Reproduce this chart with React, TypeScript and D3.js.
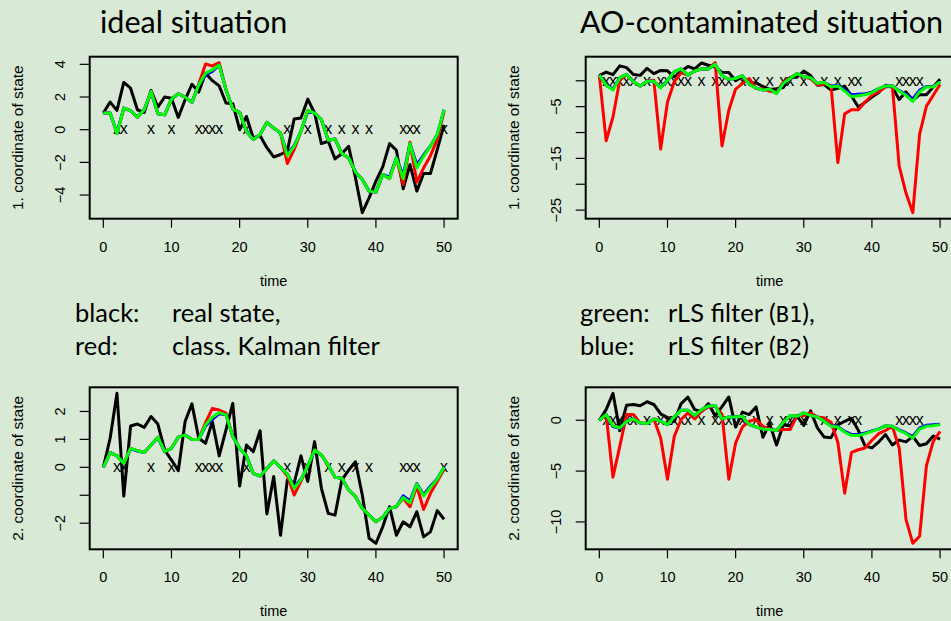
import * as d3 from "d3";

// time index of the state space model
const time = d3.range(0, 51);

// first coordinate of the state (black), shared by both top panels
const state1 = [1.02, 1.69, 1.18, 2.89, 2.54, 1.22, 1.05, 2.4, 1.38, 2.0, 1.93, 0.75, 1.83, 2.78, 2.3, 3.45, 3.0, 2.68, 1.63, 1.59, 0.0, 0.81, -0.5, -0.37, -1.1, -1.67, -1.52, -1.3, 0.65, 0.71, 1.87, 1.02, -0.85, -0.71, -1.79, -1.46, -1.02, -2.95, -5.08, -4.17, -3.15, -2.28, -0.85, -1.26, -3.62, -2.13, -3.76, -2.68, -2.68, -1.22, 0.3];
// second coordinate of the state (black), shared by both bottom panels
const state2 = [0.0, 1.04, 2.65, -1.03, 1.48, 1.55, 1.43, 1.82, 1.55, 0.62, 0.26, -0.12, 1.64, 2.27, 1.04, 0.86, 1.64, 0.41, 1.34, 2.29, -0.67, 0.8, 0.56, 1.31, -1.67, -0.33, -2.43, -0.45, -0.57, 0.41, -0.51, 0.92, -0.75, -1.65, -1.71, -0.45, -0.1, 0.2, -0.99, -2.54, -2.72, -2.13, -1.41, -2.43, -1.95, -2.13, -1.59, -2.49, -2.31, -1.55, -1.86];

// ideal situation, coordinate 1
const kalmanIdeal1 = [1.02, 1.02, -0.24, 1.32, 1.16, 0.77, 1.22, 2.34, 0.98, 0.91, 1.87, 2.2, 1.99, 1.67, 2.8, 4.02, 3.9, 4.1, 2.44, 1.26, 1.06, -0.1, -0.61, -0.3, 0.45, 0.1, -0.2, -2.07, -1.22, -0.1, 1.18, 1.02, 0.61, -0.65, -0.57, -1.46, -1.73, -2.6, -3.05, -3.76, -3.82, -2.74, -3.0, -1.73, -3.35, -0.77, -3.21, -2.34, -1.59, -0.61, 1.12];
const rlsB1Ideal1 = [1.02, 1.02, -0.24, 1.32, 1.16, 0.77, 1.22, 2.34, 0.98, 0.91, 1.87, 2.2, 1.99, 1.67, 2.74, 3.46, 3.66, 3.96, 2.44, 1.26, 1.06, -0.1, -0.61, -0.3, 0.45, 0.1, -0.2, -1.59, -1.02, -0.1, 1.18, 1.02, 0.61, -0.65, -0.57, -1.46, -1.73, -2.6, -3.05, -3.76, -3.82, -2.74, -3.0, -1.73, -3.0, -0.85, -2.34, -1.63, -1.02, -0.3, 1.22];
const rlsB2Ideal1 = [1.02, 1.02, -0.2, 1.32, 1.16, 0.77, 1.22, 2.34, 0.98, 0.91, 1.87, 2.2, 1.99, 1.67, 2.74, 3.35, 3.56, 3.96, 2.44, 1.26, 1.06, -0.1, -0.61, -0.3, 0.45, 0.1, -0.2, -1.5, -0.98, -0.1, 1.12, 1.02, 0.61, -0.65, -0.57, -1.46, -1.73, -2.6, -3.05, -3.76, -3.82, -2.74, -2.9, -1.73, -2.8, -0.85, -2.15, -1.55, -1.0, -0.3, 1.22];

// ideal situation, coordinate 2
const kalmanIdeal2 = [0, 0.53, 0.41, 0.14, 0.68, 0.6, 0.53, 0.8, 1.08, 0.56, 0.68, 1.08, 1.16, 1.0, 1.0, 1.6, 2.11, 2.05, 1.94, 1.1, 0.68, 0.41, -0.22, -0.31, -0.04, 0.23, 0, -0.3, -0.99, -0.5, 0.05, 0.62, 0.44, 0.08, -0.36, -0.39, -0.81, -1.05, -1.47, -1.71, -1.95, -1.79, -1.47, -1.41, -1.11, -1.41, -0.67, -1.51, -0.93, -0.51, -0.07];
const rlsB1Ideal2 = [0, 0.53, 0.41, 0.14, 0.68, 0.6, 0.53, 0.8, 1.08, 0.56, 0.68, 1.08, 1.16, 1.0, 1.0, 1.52, 1.79, 1.96, 1.88, 1.1, 0.68, 0.41, -0.22, -0.31, -0.04, 0.23, 0, -0.24, -0.75, -0.45, 0.05, 0.62, 0.44, 0.08, -0.36, -0.39, -0.81, -1.05, -1.47, -1.71, -1.95, -1.79, -1.47, -1.41, -1.08, -1.27, -0.6, -1.03, -0.72, -0.43, 0.0];
const rlsB2Ideal2 = [0, 0.53, 0.41, 0.14, 0.66, 0.58, 0.53, 0.8, 1.06, 0.56, 0.68, 1.08, 1.16, 1.0, 1.0, 1.48, 1.72, 1.92, 1.88, 1.1, 0.68, 0.41, -0.22, -0.31, -0.04, 0.23, 0, -0.24, -0.7, -0.43, 0.05, 0.6, 0.44, 0.08, -0.36, -0.39, -0.81, -1.05, -1.47, -1.71, -1.95, -1.79, -1.47, -1.41, -1.02, -1.2, -0.58, -0.98, -0.68, -0.41, 0.0];

// AO-contaminated situation, coordinate 1
const kalmanAO1 = [1.1, -11.6, -7.0, 0.1, 1.24, -0.2, -1.0, -0.1, 0.1, -13.2, -4.1, -0.2, 1.6, 1.1, 1.9, 2.3, 2.3, 3.5, -12.6, -5.7, -1.6, -0.5, 0.45, -1.5, -1.6, -2.0, -2.2, -0.3, 0.6, 1.3, 0.8, 0.4, -0.8, -0.6, -1.0, -15.8, -6.4, -5.6, -5.6, -4.1, -2.8, -2.1, -1.2, -1.0, -16.5, -21.7, -25.5, -10.3, -4.9, -2.8, -0.7];
const rlsB1AO1 = [1.1, -0.85, -1.8, 0.6, 1.24, -0.2, -1.0, -0.1, -0.1, -1.4, 0.1, 1.75, 2.3, 1.1, 1.9, 2.3, 2.3, 3.2, 1.0, 0.3, 0.45, 1.0, -0.7, -1.4, -1.8, -1.6, -2.5, -0.5, 0.45, 1.4, 0.8, 0.6, -0.5, -0.3, -1.2, -1.0, -2.0, -3.1, -2.9, -2.7, -2.3, -1.5, -1.0, -1.0, -2.0, -2.8, -4.0, -2.1, -1.2, -1.2, -0.2];
const rlsB2AO1 = [1.1, -0.85, -1.6, 0.6, 1.24, -0.2, -1.0, -0.1, -0.1, -1.3, 0.1, 1.75, 2.3, 1.1, 1.9, 2.3, 2.3, 3.2, 1.0, 0.3, 0.45, 1.0, -0.7, -1.4, -1.8, -1.6, -2.4, -0.5, 0.45, 1.4, 0.8, 0.6, -0.5, -0.3, -1.0, -0.9, -1.7, -2.7, -2.6, -2.5, -2.2, -1.5, -1.0, -1.0, -1.9, -2.6, -3.5, -1.8, -1.1, -1.1, -0.2];

// AO-contaminated situation, coordinate 2
const kalmanAO2 = [0, 0.56, -5.6, -2.57, 0.56, 0.56, -0.26, -0.33, 0.13, -1.74, -5.8, -1.58, 0.07, 0.72, 0.13, 0.89, 1.3, 1.38, 0.6, -5.8, -2.24, -0.66, -0.1, 0.07, -0.6, -0.86, -1.0, -0.92, -0.92, 0.46, 0.46, 0.72, 0.33, 0.23, -0.2, -2.17, -7.17, -3.16, -2.9, -2.73, -1.97, -1.32, -1.0, -0.6, -2.73, -9.74, -12.1, -11.4, -4.47, -2.07, -1.09];
const rlsB1AO2 = [0, 0.56, -0.53, -0.76, -0.1, 0.13, -0.26, -0.33, 0.13, -0.1, -0.43, 0.33, 0.99, 0.99, 0.46, 1.05, 1.38, 1.45, 0.13, 0.33, 0.33, 0.39, -0.43, -0.66, -0.86, -0.92, -1.0, -0.2, 0.46, 0.39, 0.72, 0.46, 0.33, -0.1, -0.6, -0.66, -1.18, -1.51, -1.51, -1.32, -1.09, -0.86, -0.53, -0.6, -1.0, -1.32, -1.74, -0.86, -0.6, -0.53, -0.43];
const rlsB2AO2 = [0, 0.56, -0.62, -0.8, -0.1, 0.13, -0.26, -0.33, 0.13, -0.1, -0.43, 0.33, 0.99, 0.99, 0.46, 1.05, 1.38, 1.45, 0.13, 0.33, 0.33, 0.39, -0.43, -0.66, -0.86, -0.92, -1.0, -0.2, 0.46, 0.39, 0.72, 0.46, 0.33, -0.1, -0.55, -0.6, -1.1, -1.4, -1.4, -1.25, -1.05, -0.85, -0.53, -0.6, -0.95, -1.25, -1.6, -0.75, -0.5, -0.45, -0.4];

// time points marked with "x" on the zero line
const marksIdeal = [2, 3, 7, 10, 14, 15, 16, 17, 21, 27, 30, 33, 35, 37, 39, 44, 45, 46, 50];
const marksAO = [1, 2, 3, 4, 5, 7, 9, 10, 11, 12, 13, 15, 17, 18, 19, 21, 23, 25, 27, 28, 30, 33, 35, 37, 38, 44, 45, 46, 47];

// axis ticks and labels
const xTicks = [0, 10, 20, 30, 40, 50];
const yTicksIdeal1 = [-4, -2, 0, 2, 4];
const yLabelsIdeal1 = [-4, -2, 0, 2, 4];
const yTicksAO1 = [-25, -20, -15, -10, -5, 0];
const yLabelsAO1 = [-25, -15, -5];
const yTicksIdeal2 = [-2, -1, 0, 1, 2];
const yLabelsIdeal2 = [-2, 0, 1, 2];
const yTicksAO2 = [-10, -5, 0];
const yLabelsAO2 = [-10, -5, 0];

const bg = "#d8e9d5";
const axisFont = "'Liberation Sans', Arial, sans-serif";
const textFont = "Lato, 'Noto Sans', sans-serif";

function fmt(v) {
  return v < 0 ? "\u2212" + Math.abs(v) : String(v);
}

function Panel({ left, top, state, kalman, rlsB1, rlsB2, marks, yTicks, yLabels, ylab }) {
  const w = 368;
  const h = 162;
  const x = d3.scaleLinear().domain([-2, 52]).range([left, left + w]);
  const all = [...state, ...kalman, ...rlsB1, ...rlsB2];
  const [lo, hi] = d3.extent(all);
  const pad = (hi - lo) * 0.04;
  const y = d3.scaleLinear().domain([lo - pad, hi + pad]).range([top + h, top]);
  const line = d3.line().x((d, i) => x(time[i])).y(d => y(d));
  const bottom = top + h;

  return (
    <g>
      {/* x marks on the zero line */}
      {marks.map(t => (
        <text key={"m" + t} x={x(t)} y={y(0)} dy="0.3em" textAnchor="middle"
          fontFamily={axisFont} fontSize={16} fill="#000">x</text>
      ))}
      <path d={line(state)} fill="none" stroke="#000" strokeWidth={3} strokeLinejoin="round" />
      <path d={line(kalman)} fill="none" stroke="#ff0000" strokeWidth={3} strokeLinejoin="round" />
      <path d={line(rlsB2)} fill="none" stroke="#0000ff" strokeWidth={3} strokeLinejoin="round" />
      <path d={line(rlsB1)} fill="none" stroke="#00ff00" strokeWidth={3} strokeLinejoin="round" />

      <rect x={left} y={top} width={w} height={h} fill="none" stroke="#000" strokeWidth={2} />

      {/* x axis */}
      {xTicks.map(t => (
        <g key={"x" + t}>
          <line x1={x(t)} x2={x(t)} y1={bottom} y2={bottom + 9} stroke="#000" strokeWidth={1.2} />
          <text x={x(t)} y={bottom + 33} textAnchor="middle" fontFamily={axisFont} fontSize={14.5}>{t}</text>
        </g>
      ))}
      <text x={x(25)} y={bottom + 67} textAnchor="middle" fontFamily={axisFont} fontSize={14.5}>time</text>

      {/* y axis */}
      {yTicks.map(v => (
        <line key={"y" + v} x1={left - 10} x2={left} y1={y(v)} y2={y(v)} stroke="#000" strokeWidth={1.2} />
      ))}
      {yLabels.map(v => (
        <text key={"yl" + v} transform={`translate(${left - 29.5},${y(v)}) rotate(-90)`} dy="0.36em"
          textAnchor="middle" fontFamily={axisFont} fontSize={14.5}>{fmt(v)}</text>
      ))}
      <text transform={`translate(${left - 72},${top + h / 2}) rotate(-90)`} dy="0.36em"
        textAnchor="middle" fontFamily={axisFont} fontSize={15.5}>{ylab}</text>
    </g>
  );
}

export default function App() {
  return (
    <div style={{ position: "fixed", left: 0, top: 0, right: 0, bottom: 0, background: bg }}>
      <svg width={951} height={621} style={{ display: "block" }}>
        <rect width={951} height={621} fill={bg} />
        <text x={100} y={33} fontFamily={textFont} fontSize={30.5}>ideal situation</text>
        <text x={580} y={33} fontFamily={textFont} fontSize={30.5}>AO-contaminated situation</text>

        <Panel left={89.7} top={56.7} state={state1} kalman={kalmanIdeal1} rlsB1={rlsB1Ideal1} rlsB2={rlsB2Ideal1}
          marks={marksIdeal} yTicks={yTicksIdeal1} yLabels={yLabelsIdeal1} ylab="1. coordinate of state" />
        <Panel left={585.7} top={56.7} state={state1} kalman={kalmanAO1} rlsB1={rlsB1AO1} rlsB2={rlsB2AO1}
          marks={marksAO} yTicks={yTicksAO1} yLabels={yLabelsAO1} ylab="1. coordinate of state" />
        <Panel left={89.7} top={387.3} state={state2} kalman={kalmanIdeal2} rlsB1={rlsB1Ideal2} rlsB2={rlsB2Ideal2}
          marks={marksIdeal} yTicks={yTicksIdeal2} yLabels={yLabelsIdeal2} ylab="2. coordinate of state" />
        <Panel left={585.7} top={387.3} state={state2} kalman={kalmanAO2} rlsB1={rlsB1AO2} rlsB2={rlsB2AO2}
          marks={marksAO} yTicks={yTicksAO2} yLabels={yLabelsAO2} ylab="2. coordinate of state" />

        {/* legend */}
        <g fontFamily={textFont} fontSize={25.5}>
          <text x={75} y={322}>black:</text>
          <text x={172} y={322}>real state,</text>
          <text x={75} y={355}>red:</text>
          <text x={172} y={355}>class.  Kalman filter</text>
          <text x={580} y={322}>green:</text>
          <text x={668} y={322}>rLS filter (<tspan fontFamily="'DejaVu Sans Mono', monospace" fontSize={22}>B1</tspan>),</text>
          <text x={580} y={355}>blue:</text>
          <text x={668} y={355}>rLS filter (<tspan fontFamily="'DejaVu Sans Mono', monospace" fontSize={22}>B2</tspan>)</text>
        </g>
      </svg>
    </div>
  );
}
